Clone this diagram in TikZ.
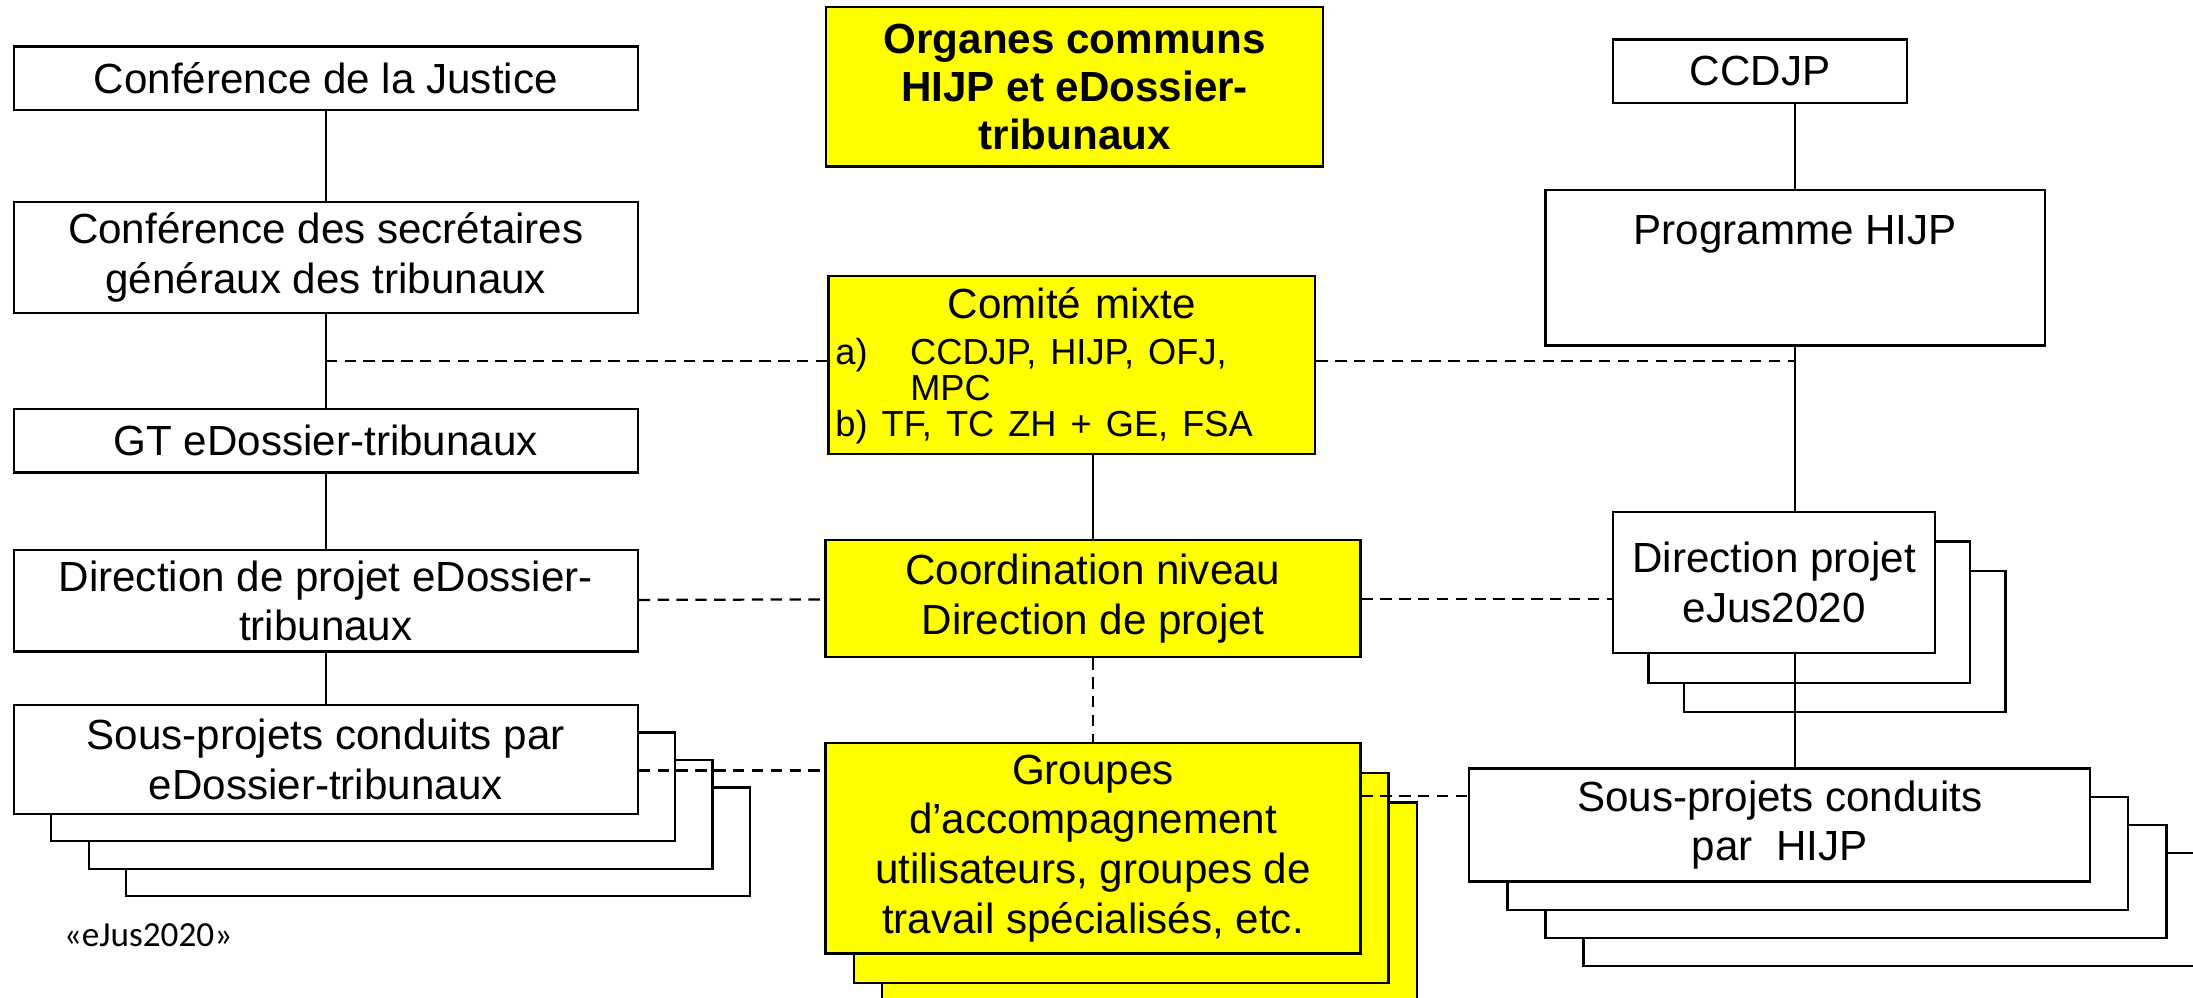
\documentclass[tikz,border=0pt]{standalone}
\usepackage{fontspec}
\setmainfont{Liberation Sans}
\newfontfamily\notefont{Carlito}
\usetikzlibrary{positioning,calc}
\definecolor{hlyellow}{RGB}{255,255,0}

\begin{document}
\begin{tikzpicture}[x=0.01cm, y=-0.01cm, line width=0.45pt,
    font=\fontsize{8.5}{10}\selectfont,
    box/.style={draw, rectangle, fill=white, align=center, inner sep=1pt},
    ybox/.style={box, fill=hlyellow},
    link/.style={dash pattern=on 2.3pt off 1.5pt}]
    \useasboundingbox (0,0) rectangle (1555,707);

    % left column
    \node[box, minimum width=4.42cm, minimum height=0.45cm] (justice) at (231,55.5) {Conférence de la Justice};
    \node[box, minimum width=4.42cm, minimum height=0.79cm] (secgen) at (231,182.5) {Conférence des secrétaires\\généraux des tribunaux};
    \node[box, minimum width=4.42cm, minimum height=0.45cm] (gt) at (231,312.5) {GT eDossier-tribunaux};
    \node[box, minimum width=4.42cm, minimum height=0.72cm] (dirleft) at (231,426) {Direction de projet eDossier-\\tribunaux};
    \foreach \k in {3,2,1}
        \node[box, minimum width=4.42cm, minimum height=0.77cm] (souleft\k) at ($(231,538.5)+\k*(26.5,19.5)$) {};
    \node[box, minimum width=4.42cm, minimum height=0.77cm] (souleft) at (231,538.5) {Sous-projets conduits par\\eDossier-tribunaux};
    \node[font=\notefont\fontsize{7.1}{8}\selectfont] (tag) at (105,663) {«eJus2020»};

    \draw (justice) -- (secgen);
    \draw (secgen) -- (gt);
    \draw (gt) -- (dirleft);
    \draw (dirleft) -- (souleft);

    % middle column
    \node[ybox, font=\fontsize{8.5}{9.7}\selectfont\bfseries, minimum width=3.52cm, minimum height=1.13cm] (organes) at (762,61.5) {Organes communs\\HIJP et eDossier-\\tribunaux};
    \node[ybox, minimum height=1.26cm, text width=3.35cm, inner xsep=0.05cm, align=left] (comite) at (760,259)
        {\makebox[\linewidth]{Comité mixte}\par\vspace{2.2pt}
         {\fontsize{7.3}{7.2}\selectfont\makebox[0.53cm][l]{a)}CCDJP, HIJP, OFJ,\\
          \hspace*{0.53cm}MPC\\
          b) TF, TC ZH + GE, FSA\par}};
    \node[ybox, minimum width=3.79cm, minimum height=0.83cm] (coord) at (775,424.5) {Coordination niveau\\Direction de projet};
    \foreach \k in {2,1}
        \node[ybox, minimum width=3.79cm, minimum height=1.49cm] (groupes\k) at ($(775,601.5)+\k*(20,21)$) {};
    \node[ybox, minimum width=3.79cm, minimum height=1.49cm] (groupes) at (775,601.5) {Groupes\\d’accompagnement\\utilisateurs, groupes de\\travail spécialisés, etc.};

    \draw (coord.north |- comite.south) -- (coord.north);
    \draw[link] (coord) -- (groupes);

    % right column
    \node[box, minimum width=2.08cm, minimum height=0.45cm] (ccdjp) at (1248,50.5) {CCDJP};
    \node[box, minimum width=3.54cm, minimum height=1.10cm, label={[anchor=north, yshift=-0.06cm]north:Programme HIJP}] (prog) at (1273,190) {};
    \foreach \k in {3,2,1}
        \node[box, minimum width=4.40cm, minimum height=0.80cm] (souright\k) at ($(1262,585)+\k*(27,20)$) {};
    \node[box, minimum width=4.40cm, minimum height=0.80cm] (souright) at (1262,585) {Sous-projets conduits\\par~~HIJP};
    \foreach \k in {2,1}
        \node[box, minimum width=2.28cm, minimum height=1.00cm] (dirproj\k) at ($(1258,413)+\k*(25,21)$) {};
    \draw (prog.north |- ccdjp.south) -- (prog.north);
    \draw (prog.south) -- (prog.south |- souright.north);
    \node[box, minimum width=2.28cm, minimum height=1.00cm] (dirproj) at (1258,413) {Direction projet\\eJus2020};

    % dashed links
    \coordinate (ljoin) at ($(secgen.south)!0.5!(gt.north)$);
    \coordinate (sjoin) at ($(souleft.north east)!0.6!(souleft.south east)$);
    \coordinate (gjoin) at ($(souright.north west)!0.25!(souright.south west)$);
    \draw[link] (ljoin) -- (ljoin -| comite.west);
    \draw[link] (ljoin -| comite.east) -- (ljoin -| prog.south);
    \draw[link] (dirleft) -- (coord);
    \draw[link] (coord.east) -- (coord.east -| dirproj.west);
    \draw[link] (sjoin) -- (sjoin -| groupes.west);
    \draw[link] (gjoin -| groupes.east) -- (gjoin);
\end{tikzpicture}
\end{document}
